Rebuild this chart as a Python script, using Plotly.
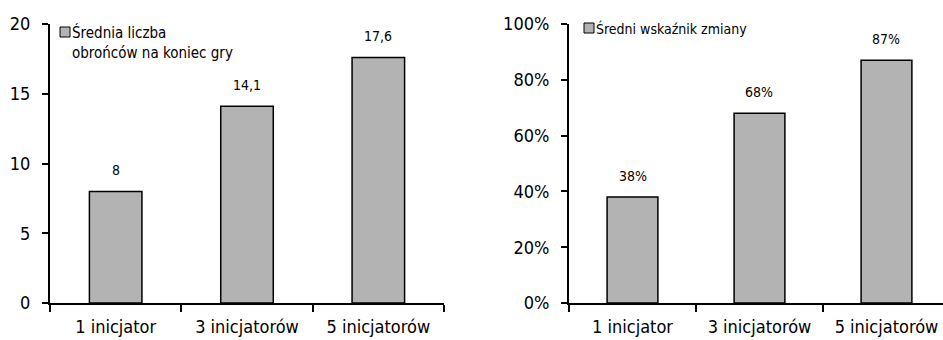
import plotly.graph_objects as go

# Data
categories = ["1 inicjator", "3 inicjatorów", "5 inicjatorów"]
defenders = [8, 14.1, 17.6]
change_rate = [0.38, 0.68, 0.87]
legend_left = ["Średnia liczba", "obrońców na koniec gry"]
legend_right = "Średni wskaźnik zmiany"

FONT = "Liberation Sans Narrow, DejaVu Sans Condensed, Arial Narrow, sans-serif"
BAR_FILL = "#b3b3b3"

fig = go.Figure()
fig.add_trace(go.Bar(x=categories, y=defenders, xaxis="x", yaxis="y",
                     marker=dict(color=BAR_FILL, line=dict(color="black", width=1.5)),
                     showlegend=False))
fig.add_trace(go.Bar(x=categories, y=change_rate, xaxis="x2", yaxis="y2",
                     marker=dict(color=BAR_FILL, line=dict(color="black", width=1.5)),
                     showlegend=False))

def fmt_num(v):
    s = f"{v:g}"
    return s.replace(".", ",")

annotations = []
for c, v in zip(categories, defenders):
    annotations.append(dict(x=c, y=v, xref="x", yref="y", text=fmt_num(v),
                            showarrow=False, yanchor="bottom", yshift=11,
                            font=dict(family=FONT, size=14, color="black")))
for c, v in zip(categories, change_rate):
    annotations.append(dict(x=c, y=v, xref="x2", yref="y2", text=f"{round(v*100)}%",
                            showarrow=False, yanchor="bottom", yshift=11,
                            font=dict(family=FONT, size=14, color="black")))

# Legend entries
W, H = 943, 340
annotations.append(dict(x=70 / W, y=1 - 21 / H, xref="paper", yref="paper",
                        text="<br>".join(legend_left), align="left",
                        showarrow=False, xanchor="left", yanchor="top",
                        font=dict(family=FONT, size=15, color="black")))
annotations.append(dict(x=594 / W, y=1 - 18 / H, xref="paper", yref="paper",
                        text=legend_right, align="left",
                        showarrow=False, xanchor="left", yanchor="top",
                        font=dict(family=FONT, size=14, color="black")))
shapes = [
    dict(type="rect", xref="paper", yref="paper",
         x0=60 / W, x1=70 / W, y0=1 - 37 / H, y1=1 - 27 / H,
         fillcolor=BAR_FILL, line=dict(color="black", width=1)),
    dict(type="rect", xref="paper", yref="paper",
         x0=584 / W, x1=594 / W, y0=1 - 33 / H, y1=1 - 23 / H,
         fillcolor=BAR_FILL, line=dict(color="black", width=1)),
]

ydom = [1 - 303 / H, 1 - 24 / H]
axis_common = dict(showline=True, linecolor="black", linewidth=2,
                   showgrid=False, zeroline=False, automargin=False,
                   tickfont=dict(family=FONT, size=18, color="black"))

fig.update_layout(
    width=W, height=H,
    margin=dict(l=0, r=0, t=0, b=0),
    paper_bgcolor="white", plot_bgcolor="white",
    bargap=0.6,
    separators=",.",
    showlegend=False,
    xaxis=dict(domain=[50 / W, 444 / W], anchor="y", type="category",
               ticks="outside", tickson="boundaries", ticklen=7, tickwidth=1.5,
               tickcolor="black", range=[-0.5, 2.5], ticklabelstandoff=6,
               **axis_common),
    yaxis=dict(domain=ydom, anchor="x", range=[0, 20], tickvals=[0, 5, 10, 15, 20],
               ticks="outside", ticklen=6, tickwidth=1.5, tickcolor="black",
               ticklabelstandoff=8, **axis_common),
    xaxis2=dict(domain=[569 / W, 1.0], anchor="y2", type="category",
                ticks="outside", tickson="boundaries", ticklen=7, tickwidth=1.5,
                tickcolor="black", range=[-0.5, 2.445], ticklabelstandoff=6,
                **axis_common),
    yaxis2=dict(domain=ydom, anchor="x2", range=[0, 1],
                tickvals=[0, 0.2, 0.4, 0.6, 0.8, 1.0], tickformat=".0%",
                ticks="outside", ticklen=6, tickwidth=1.5, tickcolor="black",
                ticklabelstandoff=8, **axis_common),
    annotations=annotations,
    shapes=shapes,
)

fig.write_html("out.html")
